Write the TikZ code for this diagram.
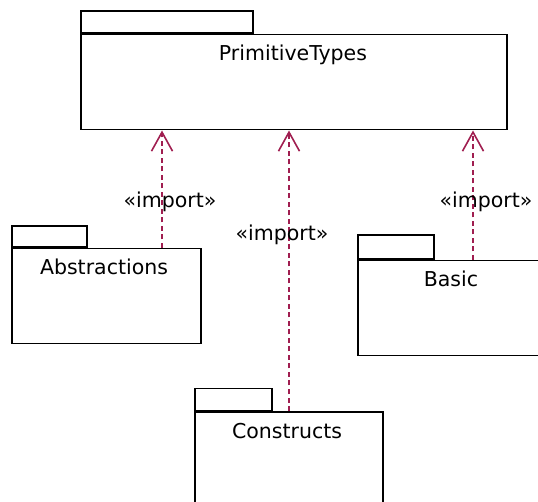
\documentclass[tikz,border=0pt]{standalone}
\usepackage{fontspec}
\setmainfont{DejaVu Sans}
\usetikzlibrary{arrows.meta}
\definecolor{impcol}{RGB}{160,30,80}
\begin{document}
\begin{tikzpicture}[x=1pt,y=-1pt,
  pkgbody/.style={draw=black, line width=1.5pt, fill=white, inner sep=0pt, anchor=north west},
  pkgtab/.style={draw=black, line width=1.5pt, inner sep=0pt, anchor=south west},
  pkgname/.style={font=\fontsize{20.5}{24}\selectfont, inner sep=0pt, anchor=base},
  imp/.style={draw=impcol, line width=1.8pt, dash pattern=on 5pt off 3.5pt,
    -{Straight Barb[length=19pt,width=21pt,line width=1.6pt]}},
  implabel/.style={font=\fontsize{20.5}{24}\selectfont, inner sep=1pt}
]
\useasboundingbox (0,0) rectangle (538,502);
% PrimitiveTypes
\node[pkgbody, minimum width=426pt, minimum height=95pt] (pt) at (80,34) {};
\node[pkgtab, minimum width=172pt, minimum height=22pt] (pttab) at (pt.north west) {};
\node[pkgname] (ptname) at (293,61) {PrimitiveTypes};
% Abstractions
\node[pkgbody, minimum width=189pt, minimum height=95pt] (abs) at (11,248) {};
\node[pkgtab, minimum width=75pt, minimum height=21pt] (abstab) at (abs.north west) {};
\node[pkgname] (absname) at (104,275) {Abstractions};
% Constructs
\node[pkgbody, minimum width=188pt, minimum height=110pt] (con) at (194,411) {};
\node[pkgtab, minimum width=77pt, minimum height=22pt] (contab) at (con.north west) {};
\node[pkgname] (conname) at (287,438) {Constructs};
% Basic
\node[pkgbody, minimum width=200pt, minimum height=95pt] (bas) at (357,260) {};
\node[pkgtab, minimum width=76pt, minimum height=24pt] (bastab) at (bas.north west) {};
\node[pkgname] (basname) at (451,287) {Basic};
% imports
\draw[imp] ([xshift=151pt]abs.north west) -- ([xshift=151pt]abs.north west |- pt.south);
\draw[imp] ([xshift=95pt]con.north west) -- ([xshift=95pt]con.north west |- pt.south);
\draw[imp] ([xshift=116pt]bas.north west) -- ([xshift=116pt]bas.north west |- pt.south);
\node[implabel] (l1) at (170,202) {«import»};
\node[implabel] (l2) at (282,235) {«import»};
\node[implabel] (l3) at (486,202) {«import»};
\end{tikzpicture}
\end{document}
